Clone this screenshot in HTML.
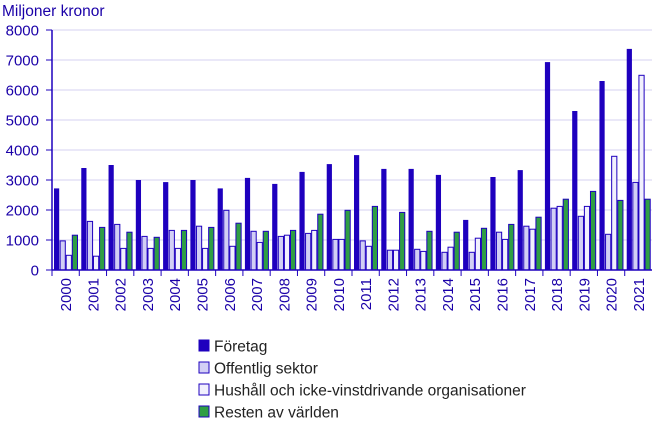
<!DOCTYPE html>
<html><head><meta charset="utf-8"><style>
body{margin:0;background:#fff;font-family:"Liberation Sans",sans-serif;}
svg text{font-family:"Liberation Sans",sans-serif;}
</style></head><body>
<svg id="chart" width="652" height="434" xmlns="http://www.w3.org/2000/svg">
<text x="2" y="16" font-size="15.5" fill="#1a00a8">Miljoner kronor</text>
<g id="grid"></g><g id="bars"></g><g id="axes"></g><g id="legend"></g>
</svg>
<script>
const years=["2000","2001","2002","2003","2004","2005","2006","2007","2008","2009","2010","2011","2012","2013","2014","2015","2016","2017","2018","2019","2020","2021"];
const foretag=[2720,3400,3500,3000,2930,3000,2720,3070,2870,3270,3530,3830,3370,3370,3170,1670,3100,3330,6930,5300,6300,7370];
const offentlig=[970,1620,1520,1120,1320,1460,1990,1290,1120,1220,1020,970,660,690,590,590,1260,1460,2060,1790,1190,2920];
const hushall=[490,460,720,720,720,720,790,920,1160,1320,1020,790,660,620,760,1060,1020,1360,2120,2120,3790,6490];
const resten=[1160,1420,1260,1090,1320,1420,1560,1290,1320,1860,1990,2120,1920,1290,1260,1390,1520,1760,2360,2620,2320,2360];
const yTicks=[0,1000,2000,3000,4000,5000,6000,7000,8000];
const seriesNames=["Företag","Offentlig sektor","Hushåll och icke-vinstdrivande organisationer","Resten av världen"];
const series=[foretag,offentlig,hushall,resten];
const fills=["#1e00be","#d2cff5","#f1f0fd","#2f9e44"];
const NS="http://www.w3.org/2000/svg";
const X0=52,X1=652,Y0=270,Y1=30,YMAX=8000;
const bw=(X1-X0)/years.length;
const y=v=>Y0-(v/YMAX)*(Y0-Y1);
const gx=i=>X0+i*bw;
function mk(t,a,p){const e=document.createElementNS(NS,t);for(const k in a)e.setAttribute(k,a[k]);p.appendChild(e);return e;}
const grid=document.getElementById('grid'),bars=document.getElementById('bars'),axes=document.getElementById('axes'),leg=document.getElementById('legend');
yTicks.forEach(t=>{
 if(t>0){const l=mk('line',{x1:X0,x2:X1,y1:y(t),y2:y(t),stroke:'#d4d0f0','stroke-width':1},grid);
 
 }
 const tk=mk('line',{x1:X0-6,x2:X0,y1:y(t),y2:y(t),stroke:'#1e00be','stroke-width':1},axes);
 
 
 const tx=mk('text',{x:X0-13,y:y(t)+5.5,'text-anchor':'end','font-size':15,fill:'#1a00a8'},axes);
 tx.textContent=t;
 
 
});
const barW=5.2,gap=0.9,off=2;
years.forEach((yr,i)=>{
 series.forEach((s,k)=>{
  const x=gx(i)+off+k*(barW+gap);
  const r=mk('rect',{x:x,y:y(s[i]),width:barW,height:Y0-y(s[i]),fill:fills[k],stroke:'#1e00be','stroke-width':k==0?0:1},bars);
  
  
 });
 const tk=mk('line',{x1:gx(i),x2:gx(i),y1:Y0,y2:Y0+6,stroke:'#1e00be'},axes);
 
 
 const cx=gx(i)+bw/2+5.5;
 const tx=mk('text',{x:cx,y:Y0+8,'text-anchor':'end','font-size':15,fill:'#1a00a8',transform:`rotate(-90 ${cx} ${Y0+8})`},axes);
 tx.textContent=yr;
 
 
});
const ax=mk('line',{x1:X0,x2:X0,y1:Y1,y2:Y0,stroke:'#1e00be','stroke-width':1.5},axes);


const bx=mk('line',{x1:X0,x2:X1,y1:Y0,y2:Y0,stroke:'#1e00be','stroke-width':1.5},axes);


seriesNames.forEach((n,k)=>{
 const yy=346+k*22;
 const r=mk('rect',{x:199,y:yy-6,width:10,height:11,fill:fills[k],stroke:'#1e00be','stroke-width':1},leg);
 
 
 const t=mk('text',{x:214,y:yy+5.5,'font-size':15.5,fill:'#222'},leg);
 t.textContent=n;
 
 
});
</script>
</body></html>
